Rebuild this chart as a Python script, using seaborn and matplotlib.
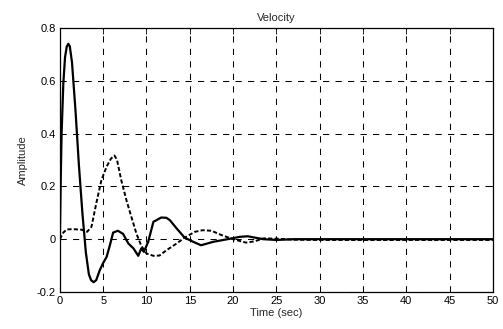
import matplotlib
matplotlib.use("Agg")
import matplotlib.pyplot as plt
import seaborn as sns
import pandas as pd

# ---- data ----
t_solid = [0, 0.1, 0.2, 0.4, 0.6, 0.8, 0.98, 1.15, 1.4, 1.8, 2.2, 2.6, 3.0, 3.35, 3.6, 3.9,
           4.2, 4.6, 5.0, 5.4, 5.8, 6.15, 6.7, 7.3, 7.9, 8.5, 9.05, 9.4, 9.7, 10.2, 10.8,
           11.15, 11.7, 12.3, 12.7, 13.5, 14.4, 15.4, 16.3, 17.7, 19.2, 20.8, 21.7, 22.5,
           23.5, 25, 27, 30, 35, 40, 45, 50]
v_solid = [0.0, 0.22, 0.40, 0.59, 0.69, 0.73, 0.74, 0.73, 0.67, 0.49, 0.28, 0.10, -0.05,
           -0.133, -0.155, -0.163, -0.155, -0.118, -0.09, -0.067, -0.02, 0.025, 0.032, 0.02,
           -0.016, -0.035, -0.063, -0.035, -0.048, -0.01, 0.066, 0.072, 0.082, 0.081, 0.072,
           0.04, 0.006, -0.01, -0.023, -0.01, -0.001, 0.009, 0.011, 0.006, 0.0, -0.003, 0.0,
           0.0, 0.0, 0.0, 0.0, 0.0]

t_dash = [0, 0.4, 0.8, 1.5, 2.5, 3.15, 3.65, 4.2, 4.8, 5.4, 5.9, 6.3, 6.6, 7.1, 7.7, 8.27,
          8.86, 9.4, 10.0, 10.8, 11.5, 12.3, 13.5, 14.4, 15.6, 16.5, 17.5, 18.7, 20, 21.5,
          22.5, 23.5, 25, 27, 30, 35, 40, 45, 50]
v_dash = [0.0, 0.025, 0.037, 0.038, 0.036, 0.028, 0.047, 0.135, 0.224, 0.275, 0.305, 0.317,
          0.30, 0.222, 0.146, 0.083, 0.019, -0.025, -0.054, -0.063, -0.062, -0.042, -0.016,
          0.006, 0.028, 0.034, 0.032, 0.015, 0.0, -0.013, -0.008, 0.003, 0.002, -0.002, -0.003,
          -0.003, -0.003, -0.003, -0.003]

x_ticks = [0, 5, 10, 15, 20, 25, 30, 35, 40, 45, 50]
y_ticks = [-0.2, 0, 0.2, 0.4, 0.6, 0.8]
y_tick_labels = ["-0.2", "0", "0.2", "0.4", "0.6", "0.8"]

title = "Velocity"
xlabel = "Time (sec)"
ylabel = "Amplitude"

# ---- plotting ----
sns.set_style("white")
plt.rcParams["font.family"] = ["Liberation Sans", "DejaVu Sans"]
plt.rcParams["lines.scale_dashes"] = False

fig = plt.figure(figsize=(5.03, 3.29), dpi=100)
ax = fig.add_axes([0.119, 0.1125, 0.861, 0.8025])

df_s = pd.DataFrame({"t": t_solid, "v": v_solid})
df_d = pd.DataFrame({"t": t_dash, "v": v_dash})

sns.lineplot(data=df_s, x="t", y="v", ax=ax, color="black", linewidth=1.6, sort=False)
sns.lineplot(data=df_d, x="t", y="v", ax=ax, color="black", linewidth=1.4, sort=False,
             linestyle=(0, (3.0, 1.6)))

ax.set_xlim(0, 50)
ax.set_ylim(-0.2, 0.8)
ax.set_xticks(x_ticks)
ax.set_xticklabels([str(x) for x in x_ticks])
ax.set_yticks(y_ticks)
ax.set_yticklabels(y_tick_labels)

ax.grid(True, color="black", linestyle=(0, (4.5, 4.5)), linewidth=0.75)
ax.tick_params(direction="in", length=4, width=0.6, labelsize=8, colors="black",
               top=True, right=True, pad=3)
for s in ax.spines.values():
    s.set_color("black")
    s.set_linewidth(0.9)

ax.set_title(title, fontsize=8, pad=5)
ax.set_xlabel(xlabel, fontsize=8, labelpad=1)
ax.set_ylabel(ylabel, fontsize=8, labelpad=6)

fig.savefig("out.png", dpi=100)
